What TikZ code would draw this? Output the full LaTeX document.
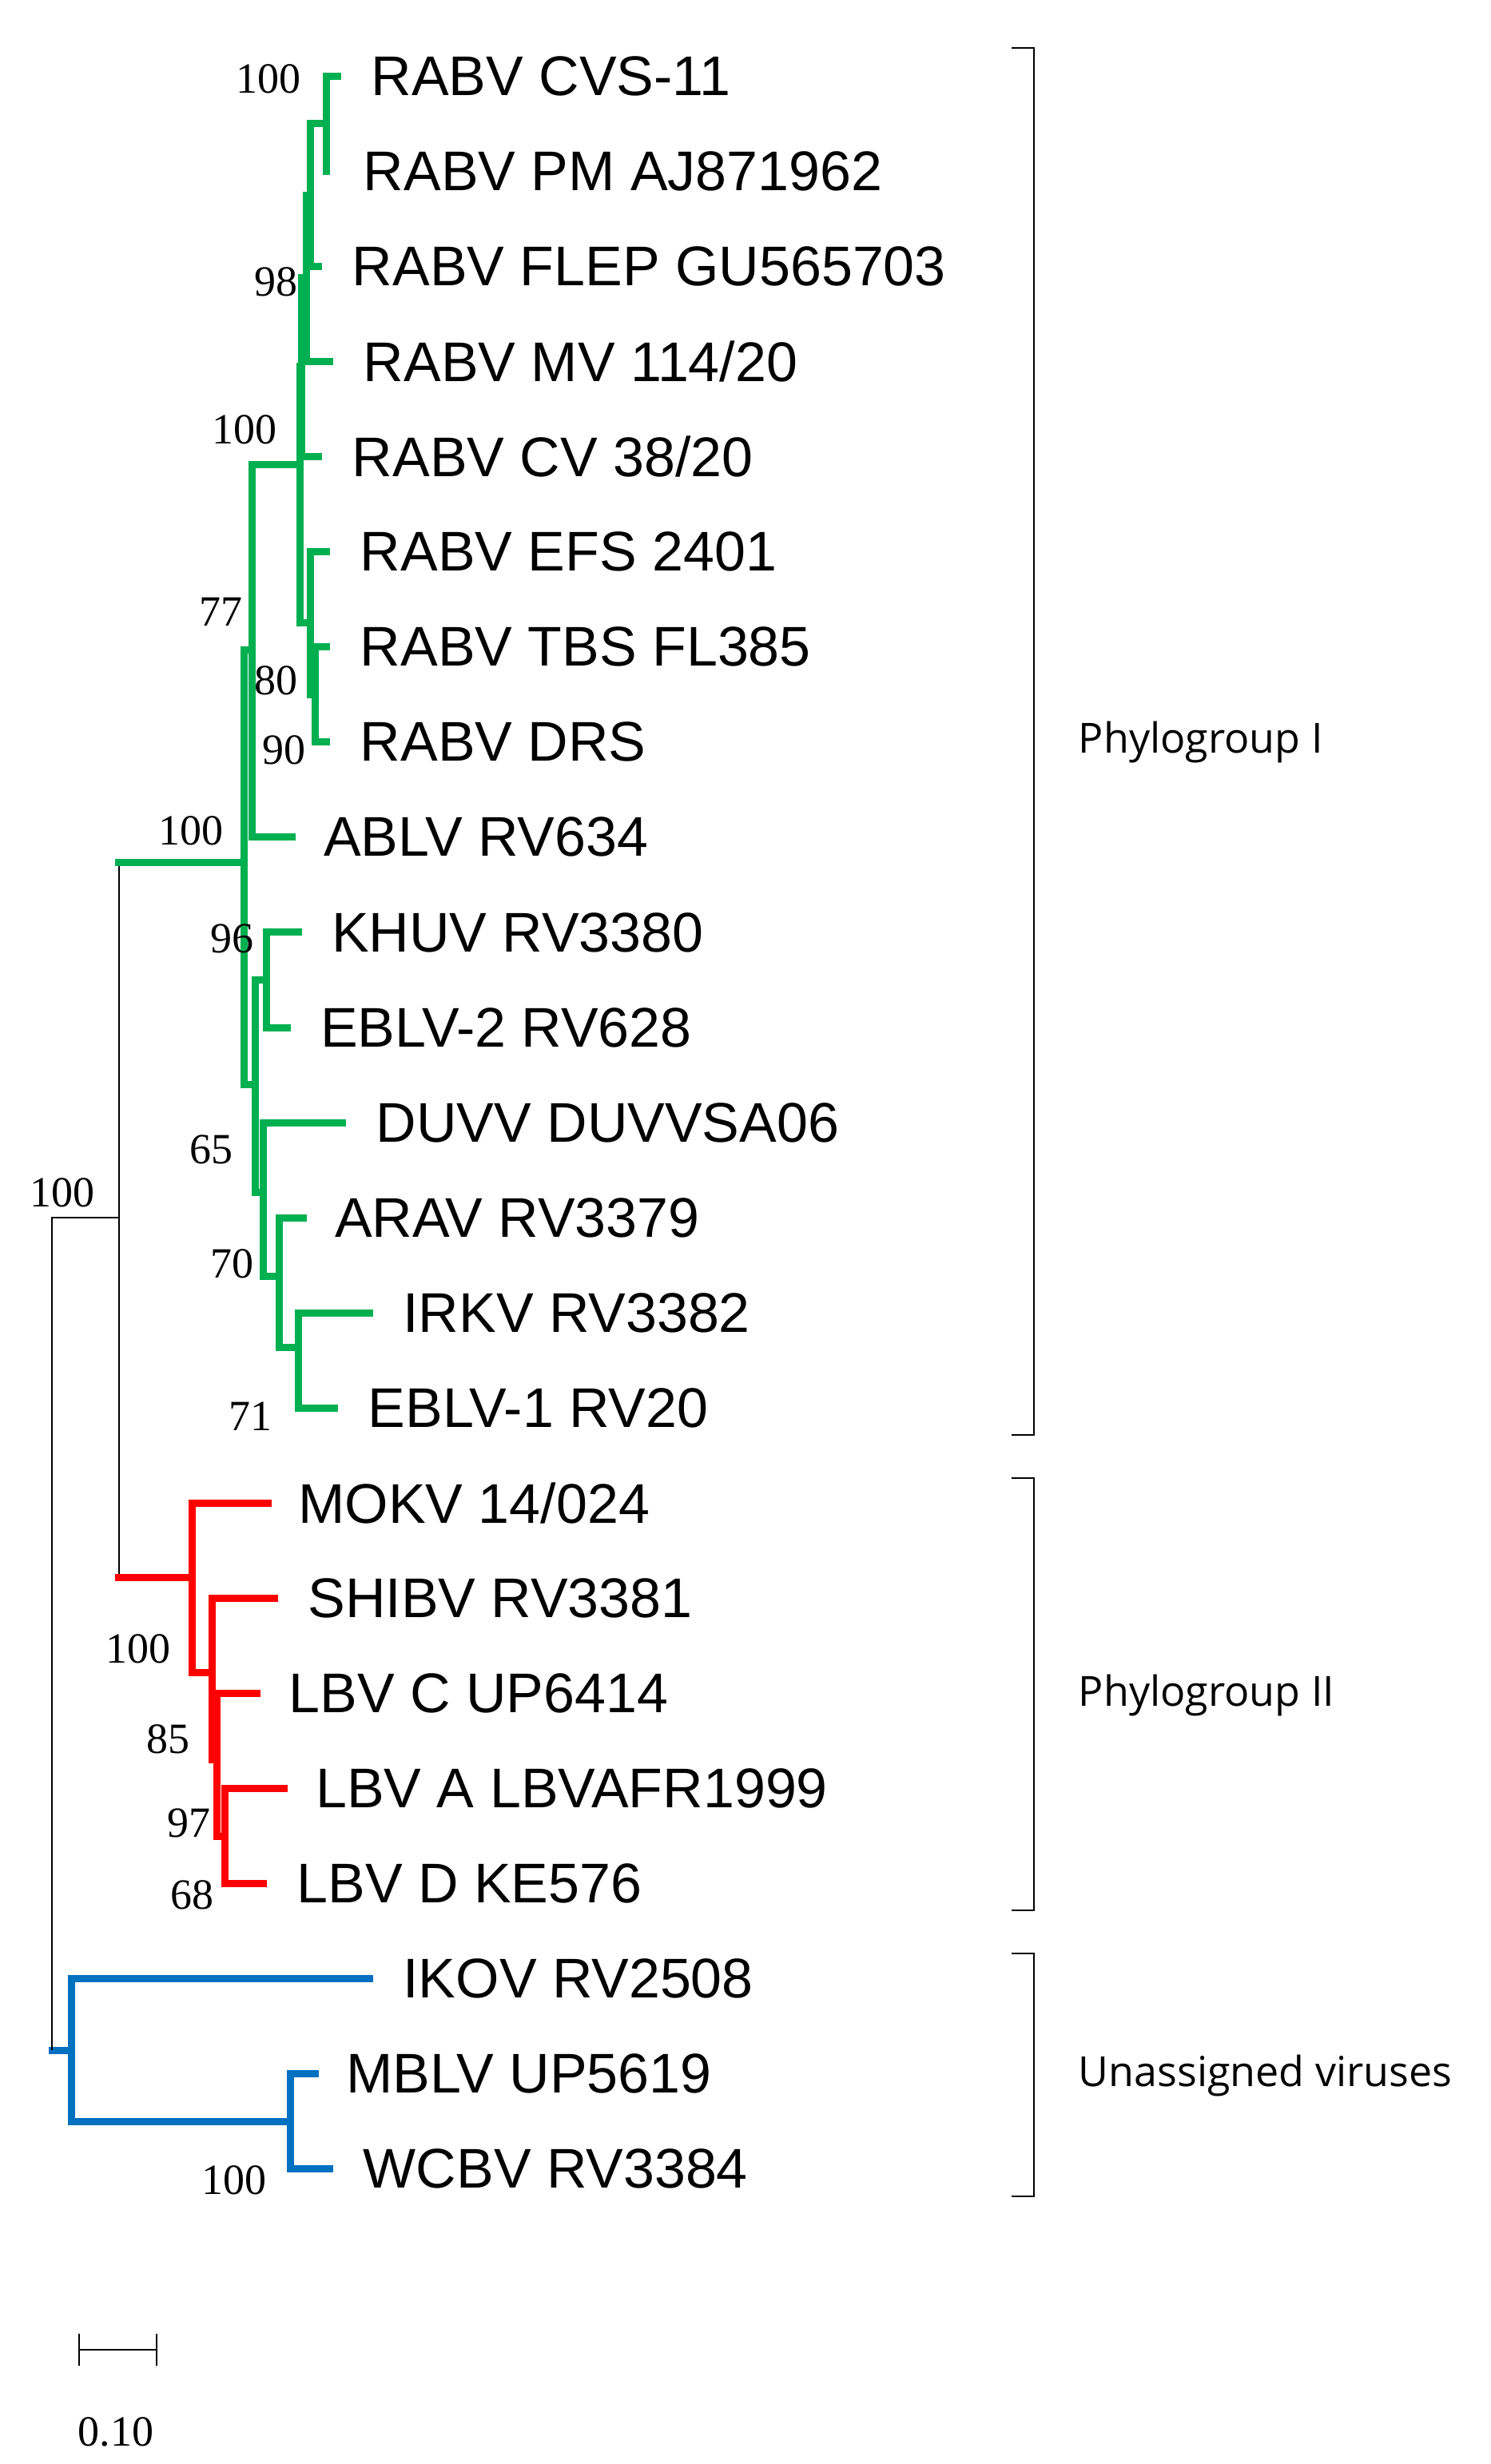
\documentclass[tikz,border=0pt]{standalone}
\usepackage{fontspec}
\setmainfont{Liberation Sans}
\newfontfamily\bsfont{Liberation Serif}
\newfontfamily\grpfont{Open Sans}
\definecolor{gr}{RGB}{0,176,80}
\definecolor{rd}{RGB}{255,0,0}
\definecolor{bl}{RGB}{0,112,192}
\begin{document}
\begin{tikzpicture}[x=0.9926pt,y=-0.9926pt,
  br/.style={line width=4.5pt,line cap=rect,line join=miter},
  grn/.style={br,draw=gr}, red/.style={br,draw=rd}, blu/.style={br,draw=bl},
  thinb/.style={line width=1pt,draw=black},
  tx/.style={anchor=west,inner sep=0pt,font=\fontsize{35}{35}\selectfont},
  bs/.style={anchor=east,inner sep=0pt,font=\bsfont\fontsize{27}{27}\selectfont},
  grp/.style={anchor=west,inner sep=0pt,font=\grpfont\fontsize{26}{26}\selectfont}]
\useasboundingbox (0,0) rectangle (940,1554);
% tips
\foreach \n/\x/\y in {cvs/213/48,pm/206/108,flep/201/168,mv/208/228,cv/201/288,efs/206/348,tbs/206/408,drs/206/468,ablv/184/528,khuv/188/588,eblvb/181/648,duvv/216/708,arav/191/768,irkv/233/828,eblva/211/888,mokv/169/948,shibv/173/1008,lbvc/162/1068,lbva/179/1128,lbvd/166/1188,ikov/233/1248,mblv/199/1308,wcbv/208/1368}
  \coordinate (\n) at (\x,\y);
% internal nodes
\coordinate (n1) at (206,78); \coordinate (n2) at (196,123); \coordinate (n3) at (193,175);
\coordinate (n4) at (190,231); \coordinate (n6) at (199,438); \coordinate (n7) at (196,393);
\coordinate (n5) at (189,293); \coordinate (g1) at (159,410); \coordinate (h1) at (168,618);
\coordinate (ir) at (188,850); \coordinate (ar) at (176,805); \coordinate (h2) at (166,752);
\coordinate (g2) at (161,684); \coordinate (g0) at (154,544);
\coordinate (r3a) at (142,1158); \coordinate (r3) at (137,1110); \coordinate (r2) at (134,1055);
\coordinate (r) at (121,995); \coordinate (bw) at (183,1338); \coordinate (b) at (45,1293);
\coordinate (k) at (75,768); \coordinate (root) at (33,1293);
\coordinate (kg) at (75,544); \coordinate (kr) at (75,995);
% green
\draw[grn] (n1) |- (cvs); \draw[grn] (n1) -- (pm);
\draw[grn] (n2) |- (n1); \draw[grn] (n2) |- (flep);
\draw[grn] (n3) |- (n2); \draw[grn] (n3) |- (mv);
\draw[grn] (n4) |- (n3); \draw[grn] (n4) |- (cv);
\draw[grn] (n6) |- (tbs); \draw[grn] (n6) |- (drs);
\draw[grn] (n7) |- (efs); \draw[grn] (n7) |- (n6);
\draw[grn] (n5) |- (n4); \draw[grn] (n5) |- (n7);
\draw[grn] (g1) |- (n5); \draw[grn] (g1) |- (ablv);
\draw[grn] (h1) |- (khuv); \draw[grn] (h1) |- (eblvb);
\draw[grn] (ir) |- (irkv); \draw[grn] (ir) |- (eblva);
\draw[grn] (ar) |- (arav); \draw[grn] (ar) |- (ir);
\draw[grn] (h2) |- (duvv); \draw[grn] (h2) |- (ar);
\draw[grn] (g2) |- (h1); \draw[grn] (g2) |- (h2);
\draw[grn] (g0) |- (g1); \draw[grn] (g0) |- (g2);
% red
\draw[red] (r3a) |- (lbva); \draw[red] (r3a) |- (lbvd);
\draw[red] (r3) |- (lbvc); \draw[red] (r3) |- (r3a);
\draw[red] (r2) |- (shibv); \draw[red] (r2) |- (r3);
\draw[red] (r) |- (mokv); \draw[red] (r) |- (r2);
% blue
\draw[blu] (bw) |- (mblv); \draw[blu] (bw) |- (wcbv);
\draw[blu] (b) |- (ikov); \draw[blu] (b) |- (bw);
\draw[blu] (root) -- (b);
% black
\draw[thinb] (kg) -- (kr); \draw[grn] (kg) -- (g0); \draw[red] (kr) -- (r);
\draw[thinb] (root) |- (k);
% labels
\foreach \n/\x/\t in {cvs/234/{RABV CVS-11},pm/229/{RABV PM AJ871962},flep/222/{RABV FLEP GU565703},mv/229/{RABV MV 114/20},cv/222/{RABV CV 38/20},efs/227/{RABV EFS 2401},tbs/227/{RABV TBS FL385},drs/227/{RABV DRS},ablv/204/{ABLV RV634},khuv/209/{KHUV RV3380},eblvb/202/{EBLV-2 RV628},duvv/237/{DUVV DUVVSA06},arav/211/{ARAV RV3379},irkv/254/{IRKV RV3382},eblva/232/{EBLV-1 RV20},mokv/188/{MOKV 14/024},shibv/194/{SHIBV RV3381},lbvc/182/{LBV C UP6414},lbva/199/{LBV A LBVAFR1999},lbvd/187/{LBV D KE576},ikov/254/{IKOV RV2508},mblv/218/{MBLV UP5619},wcbv/229/{WCBV RV3384}}
  \node[tx] (l\n) at (\x,0|-\n) {\t};
% bootstrap
\foreach \i/\x/\y/\t in {1/190/50/100,2/188/178/98,3/175/271/100,4/153/386/77,5/188/429/80,6/193/473/90,7/141/524/100,8/160/592/96,9/147/725/65,10/160/797/70,11/172/893/71,12/60/752/100,13/108/1040/100,14/120/1097/85,15/133/1150/97,16/135/1195/68,17/168/1375/100}
  \node[bs] (b\i) at (\x,\y) {\t};
% brackets
\coordinate (a1) at (638,30); \coordinate (a2) at (652,30); \coordinate (a3) at (652,905); \coordinate (a4) at (638,905);
\draw[thinb] (a1) -- (a2) -- (a3) -- (a4);
\coordinate (c1) at (638,932); \coordinate (c2) at (652,932); \coordinate (c3) at (652,1205); \coordinate (c4) at (638,1205);
\draw[thinb] (c1) -- (c2) -- (c3) -- (c4);
\coordinate (d1) at (638,1232); \coordinate (d2) at (652,1232); \coordinate (d3) at (652,1385); \coordinate (d4) at (638,1385);
\draw[thinb] (d1) -- (d2) -- (d3) -- (d4);
\node[grp] (p1) at (680,468) {Phylogroup I};
\node[grp] (p2) at (680,1069) {Phylogroup II};
\node[grp] (p3) at (680,1309) {Unassigned viruses};
% scale bar
\coordinate (s1) at (50,1482); \coordinate (s2) at (99,1482);
\draw[thinb] (s1) -- (s2);
\draw[thinb] ([yshift=-10pt]s1) -- ([yshift=10pt]s1);
\draw[thinb] ([yshift=-10pt]s2) -- ([yshift=10pt]s2);
\node[anchor=center,inner sep=0pt,font=\bsfont\fontsize{27}{27}\selectfont] (sl) at (73,1534) {0.10};
\end{tikzpicture}
\end{document}
